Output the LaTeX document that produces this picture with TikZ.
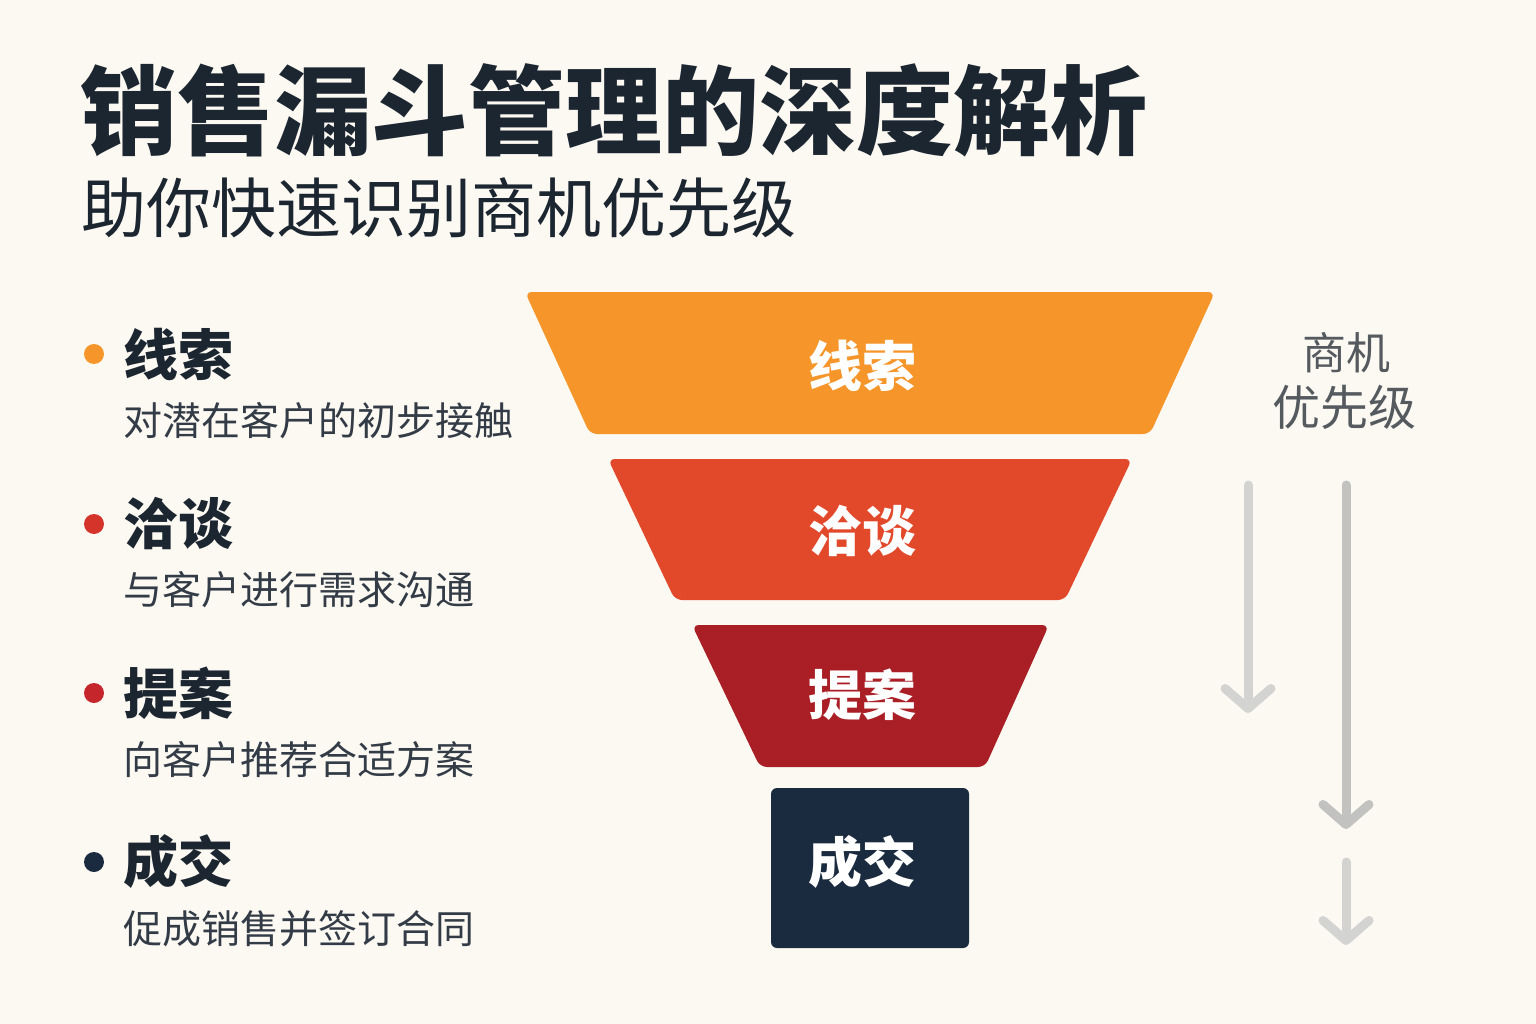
\documentclass[tikz,border=0pt]{standalone}
\usepackage{fontspec}
\setmainfont{Noto Sans CJK SC}
\usetikzlibrary{arrows.meta}
\definecolor{bgc}{HTML}{FCF9F3}
\definecolor{ink}{HTML}{1C2631}
\definecolor{c1}{HTML}{F5952A}
\definecolor{c2}{HTML}{E2492B}
\definecolor{c3}{HTML}{A91F25}
\definecolor{c4}{HTML}{1B2B3F}
\definecolor{d2}{HTML}{D5342B}
\definecolor{d3}{HTML}{C4262B}
\definecolor{gtxt}{HTML}{555A5F}
\definecolor{arr}{HTML}{D3D3D1}
\tikzset{
  band/.style={rounded corners=7pt},
  bandtext/.style={text=white, inner sep=0pt, font=\fontsize{54}{54}\selectfont\bfseries},
  head/.style={anchor=west, inner sep=0pt, text=ink, font=\fontsize{55}{55}\selectfont\bfseries},
  desc/.style={anchor=west, inner sep=0pt, text=ink!90, font=\fontsize{39}{39}\selectfont},
  dot/.style={circle, inner sep=0pt, minimum size=20pt},
  prio/.style={draw=arr, line width=9pt, line cap=round, -{Straight Barb[round, length=20pt, width=46pt]}},
}
\begin{document}
\begin{tikzpicture}[x=1pt,y=-1pt]
\useasboundingbox (0,0) rectangle (1536,1024);
\fill[bgc] (0,0) rectangle (1536,1024);
% titles
\node[anchor=west, inner sep=0pt, text=ink, font=\fontsize{97}{97}\selectfont\bfseries] (title) at (80,110) {销售漏斗管理的深度解析};
\node[anchor=west, inner sep=0pt, text=ink, font=\fontsize{65}{65}\selectfont] (subtitle) at (81,208) {助你快速识别商机优先级};
% funnel
\fill[c1, band] (525,292) -- (1215,292) -- (1150,434) -- (590,434) -- cycle;
\fill[c2, band] (608,459) -- (1132,459) -- (1065,600) -- (675,600) -- cycle;
\fill[c3, band] (692,625) -- (1049,625) -- (985,767) -- (760,767) -- cycle;
\fill[c4, rounded corners=6pt] (771,788) rectangle (969,948);
\node[bandtext] (f1) at (862,366) {线索};
\node[bandtext] (f2) at (862,531) {洽谈};
\node[bandtext] (f3) at (862,695) {提案};
\node[bandtext] (f4) at (862,862) {成交};
% left list
\node[dot, fill=c1] (b1) at (94,354) {};
\node[dot, fill=d2] (b2) at (94,524) {};
\node[dot, fill=d3] (b3) at (94,693) {};
\node[dot, fill=c4] (b4) at (94,862) {};
\node[head] (h1) at (123,354) {线索};
\node[head] (h2) at (123,524) {洽谈};
\node[head] (h3) at (123,693) {提案};
\node[head] (h4) at (123,862) {成交};
\node[desc] (d1) at (123,421) {对潜在客户的初步接触};
\node[desc] (d2) at (123,590) {与客户进行需求沟通};
\node[desc] (d3) at (123,760) {向客户推荐合适方案};
\node[desc] (d4) at (123,929) {促成销售并签订合同};
% right priority label
\node[inner sep=0pt, text=gtxt, font=\fontsize{44}{44}\selectfont] (p1) at (1346,353) {商机};
\node[inner sep=0pt, text=gtxt, font=\fontsize{48}{48}\selectfont] (p2) at (1344,407) {优先级};
% arrows
\coordinate (a1s) at (1248,485);
\coordinate (a1e) at (1248,713);
\coordinate (a2s) at (1346,485);
\coordinate (a2e) at (1346,829);
\coordinate (a3s) at (1346,862);
\coordinate (a3e) at (1346,945);
\draw[prio] (a1s) -- (a1e);
\draw[prio, draw=arr!92!black] (a2s) -- (a2e);
\draw[prio] (a3s) -- (a3e);
\end{tikzpicture}
\end{document}
